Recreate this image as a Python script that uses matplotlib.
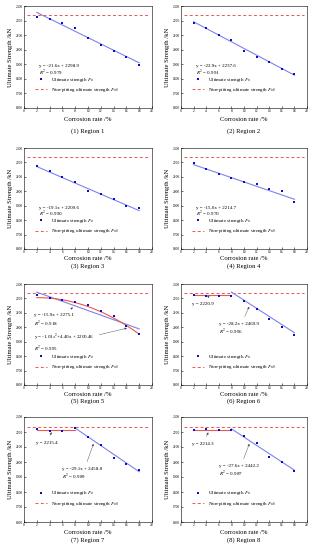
import matplotlib

matplotlib.use("Agg")

import matplotlib.pyplot as plt
import numpy as np
from matplotlib.lines import Line2D

plt.rcParams["font.family"] = ["Liberation Serif", "DejaVu Serif"]
plt.rcParams["mathtext.fontset"] = "stix"

# --- data ---
rates = [2, 4, 6, 8, 10, 12, 14, 16, 18]
f_u0 = 2235

strength_1 = [2222, 2210, 2185, 2148, 2083, 2032, 1988, 1949, 1898]
strength_2 = [2185, 2148, 2102, 2068, 1990, 1951, 1913, 1865, 1835]
strength_3 = [2178, 2142, 2098, 2065, 2005, 1981, 1944, 1898, 1886]
strength_4 = [2197, 2156, 2121, 2094, 2064, 2053, 2016, 2002, 1924]
strength_5 = [2222, 2203, 2187, 2173, 2152, 2115, 2076, 2009, 1956]
strength_6 = [2225, 2220, 2218, 2220, 2180, 2130, 2055, 2000, 1945]
strength_7 = [2222, 2205, 2210, 2225, 2165, 2115, 2030, 1990, 1945]
strength_8 = [2212, 2218, 2212, 2215, 2172, 2125, 2035, 2002, 1938]

# linear fits (slope, intercept, r2) as printed on each panel
linear_fits = {
    1: (-21.6, 2298.9, 0.979),
    2: (-22.9, 2237.6, 0.991),
    3: (-19.1, 2209.6, 0.990),
    4: (-15.0, 2214.7, 0.970),
    5: (-15.9, 2275.1, 0.918),
    6: (-28.2, 2469.9, 0.996),
    7: (-29.1, 2458.8, 0.989),
    8: (-27.6, 2442.2, 0.987),
}
quad_fit_5 = (-1.01, 4.40, 2200.46, 0.995)
plateaus = {6: 2220.9, 7: 2215.4, 8: 2214.3}

all_strength = [strength_1, strength_2, strength_3, strength_4,
                strength_5, strength_6, strength_7, strength_8]

POINT = "#0a0ad0"
FIT = "#7d84e6"
RED = "#e8594f"
ARROW = dict(arrowstyle="-|>", lw=0.3, color="#444444", mutation_scale=3)

fig = plt.figure(figsize=(3.13, 5.5), dpi=100)
W, H = 313, 550
col_x = [(24, 152), (181, 307)]
row_y = [(6, 108), (148, 249), (284, 385), (417, 522)]
xlabel_y = [120, 259, 395, 533]
caption_y = [131, 266, 401, 540]

x_fit = np.linspace(2, 18, 50)
x_drop = np.linspace(8, 18, 50)

for i, vals in enumerate(all_strength):
    n = i + 1
    r, c = divmod(i, 2)
    x0, x1 = col_x[c]
    y0, y1 = row_y[r]
    ax = fig.add_axes([x0 / W, 1 - y1 / H, (x1 - x0) / W, (y1 - y0) / H])
    h = y1 - y0

    ax.axhline(f_u0, xmin=0.02, xmax=0.98, color=RED, lw=0.7, ls=(0, (3, 2.5)))
    a, b, r2 = linear_fits[n]
    if n <= 5:
        ax.plot(x_fit, a * x_fit + b, color=FIT, lw=0.8)
    else:
        ax.plot(x_drop, a * x_drop + b, color=FIT, lw=0.8)
        ax.plot([2, 8], [plateaus[n]] * 2, color=RED, lw=0.8)
    if n == 5:
        qa, qb, qc, qr2 = quad_fit_5
        ax.plot(x_fit, qa * x_fit ** 2 + qb * x_fit + qc, color=RED, lw=0.8)
    ax.plot(rates, vals, "s", color=POINT, ms=2.1, mew=0)

    ax.set_xlim(0, 20)
    ax.set_ylim(1600, 2300)
    ax.set_xticks(range(0, 21, 2))
    ax.set_yticks(range(1600, 2301, 100))
    ax.tick_params(labelsize=2.6, length=1.2, width=0.4, pad=1, direction="in")
    for sp in ax.spines.values():
        sp.set_linewidth(0.4)
    ax.set_xlabel("Corrosion rate /%", fontsize=4.8)
    ax.xaxis.set_label_coords(0.5, -(xlabel_y[r] - y1) / h)
    ax.xaxis.label.set_va("center")
    ax.set_ylabel("Ultimate Strength /kN", fontsize=4.8, labelpad=2)
    ax.text(0.5, -(caption_y[r] - y1) / h, f"({n}) Region {n}",
            transform=ax.transAxes, ha="center", va="center", fontsize=4.8)

    eq_kw = dict(fontsize=3.6, va="center")
    if n <= 4:
        ax.text(0.12, 0.41, f"y = {a}x + {b}", transform=ax.transAxes, **eq_kw)
        ax.text(0.12, 0.345, f"$R^2$ = {r2:.3f}", transform=ax.transAxes, **eq_kw)
    elif n == 5:
        ax.annotate(f"y = {a}x + {b}\n$R^2$ = {r2:.3f}", xy=(8, a * 8 + b),
                    xytext=(1.5, 2045), linespacing=1.3, arrowprops=ARROW,
                    **eq_kw)
        qa, qb, qc, qr2 = quad_fit_5
        ax.annotate(f"y = {qa}$x^2$+{qb:.2f}x + {qc}\n$R^2$ = {qr2:.3f}",
                    xy=(16.5, qa * 16.5 ** 2 + qb * 16.5 + qc),
                    xytext=(1.5, 1890), linespacing=1.3, arrowprops=ARROW,
                    **eq_kw)
    else:
        plateau_y = {6: 2160, 7: 2128, 8: 2120}[n]
        drop_y = {6: 1985, 7: 1915, 8: 1935}[n]
        ax.annotate(f"y = {plateaus[n]}", xy=(4.5, plateaus[n]),
                    xytext=(1.8, plateau_y), arrowprops=ARROW, **eq_kw)
        ax.annotate(f"y = {a}x + {b}\n$R^2$ = {r2:.3f}", xy=(11, a * 11 + b),
                    xytext=(6, drop_y), linespacing=1.3, arrowprops=ARROW,
                    **eq_kw)

    handles = [
        Line2D([], [], ls="none", marker="s", color=POINT, ms=2.1, mew=0),
        Line2D([], [], color=RED, lw=0.7, ls=(0, (3, 2.5))),
    ]
    ax.legend(handles, ["Ultimate strength $F_u$",
                        "Non-pitting ultimate strength $F_{u0}$"],
              loc="center left", bbox_to_anchor=(0.06, 0.225), frameon=False,
              fontsize=3.6, handlelength=2.5, borderpad=0.1,
              labelspacing=0.45, handletextpad=0.8)

fig.savefig("out.png", dpi=100)
